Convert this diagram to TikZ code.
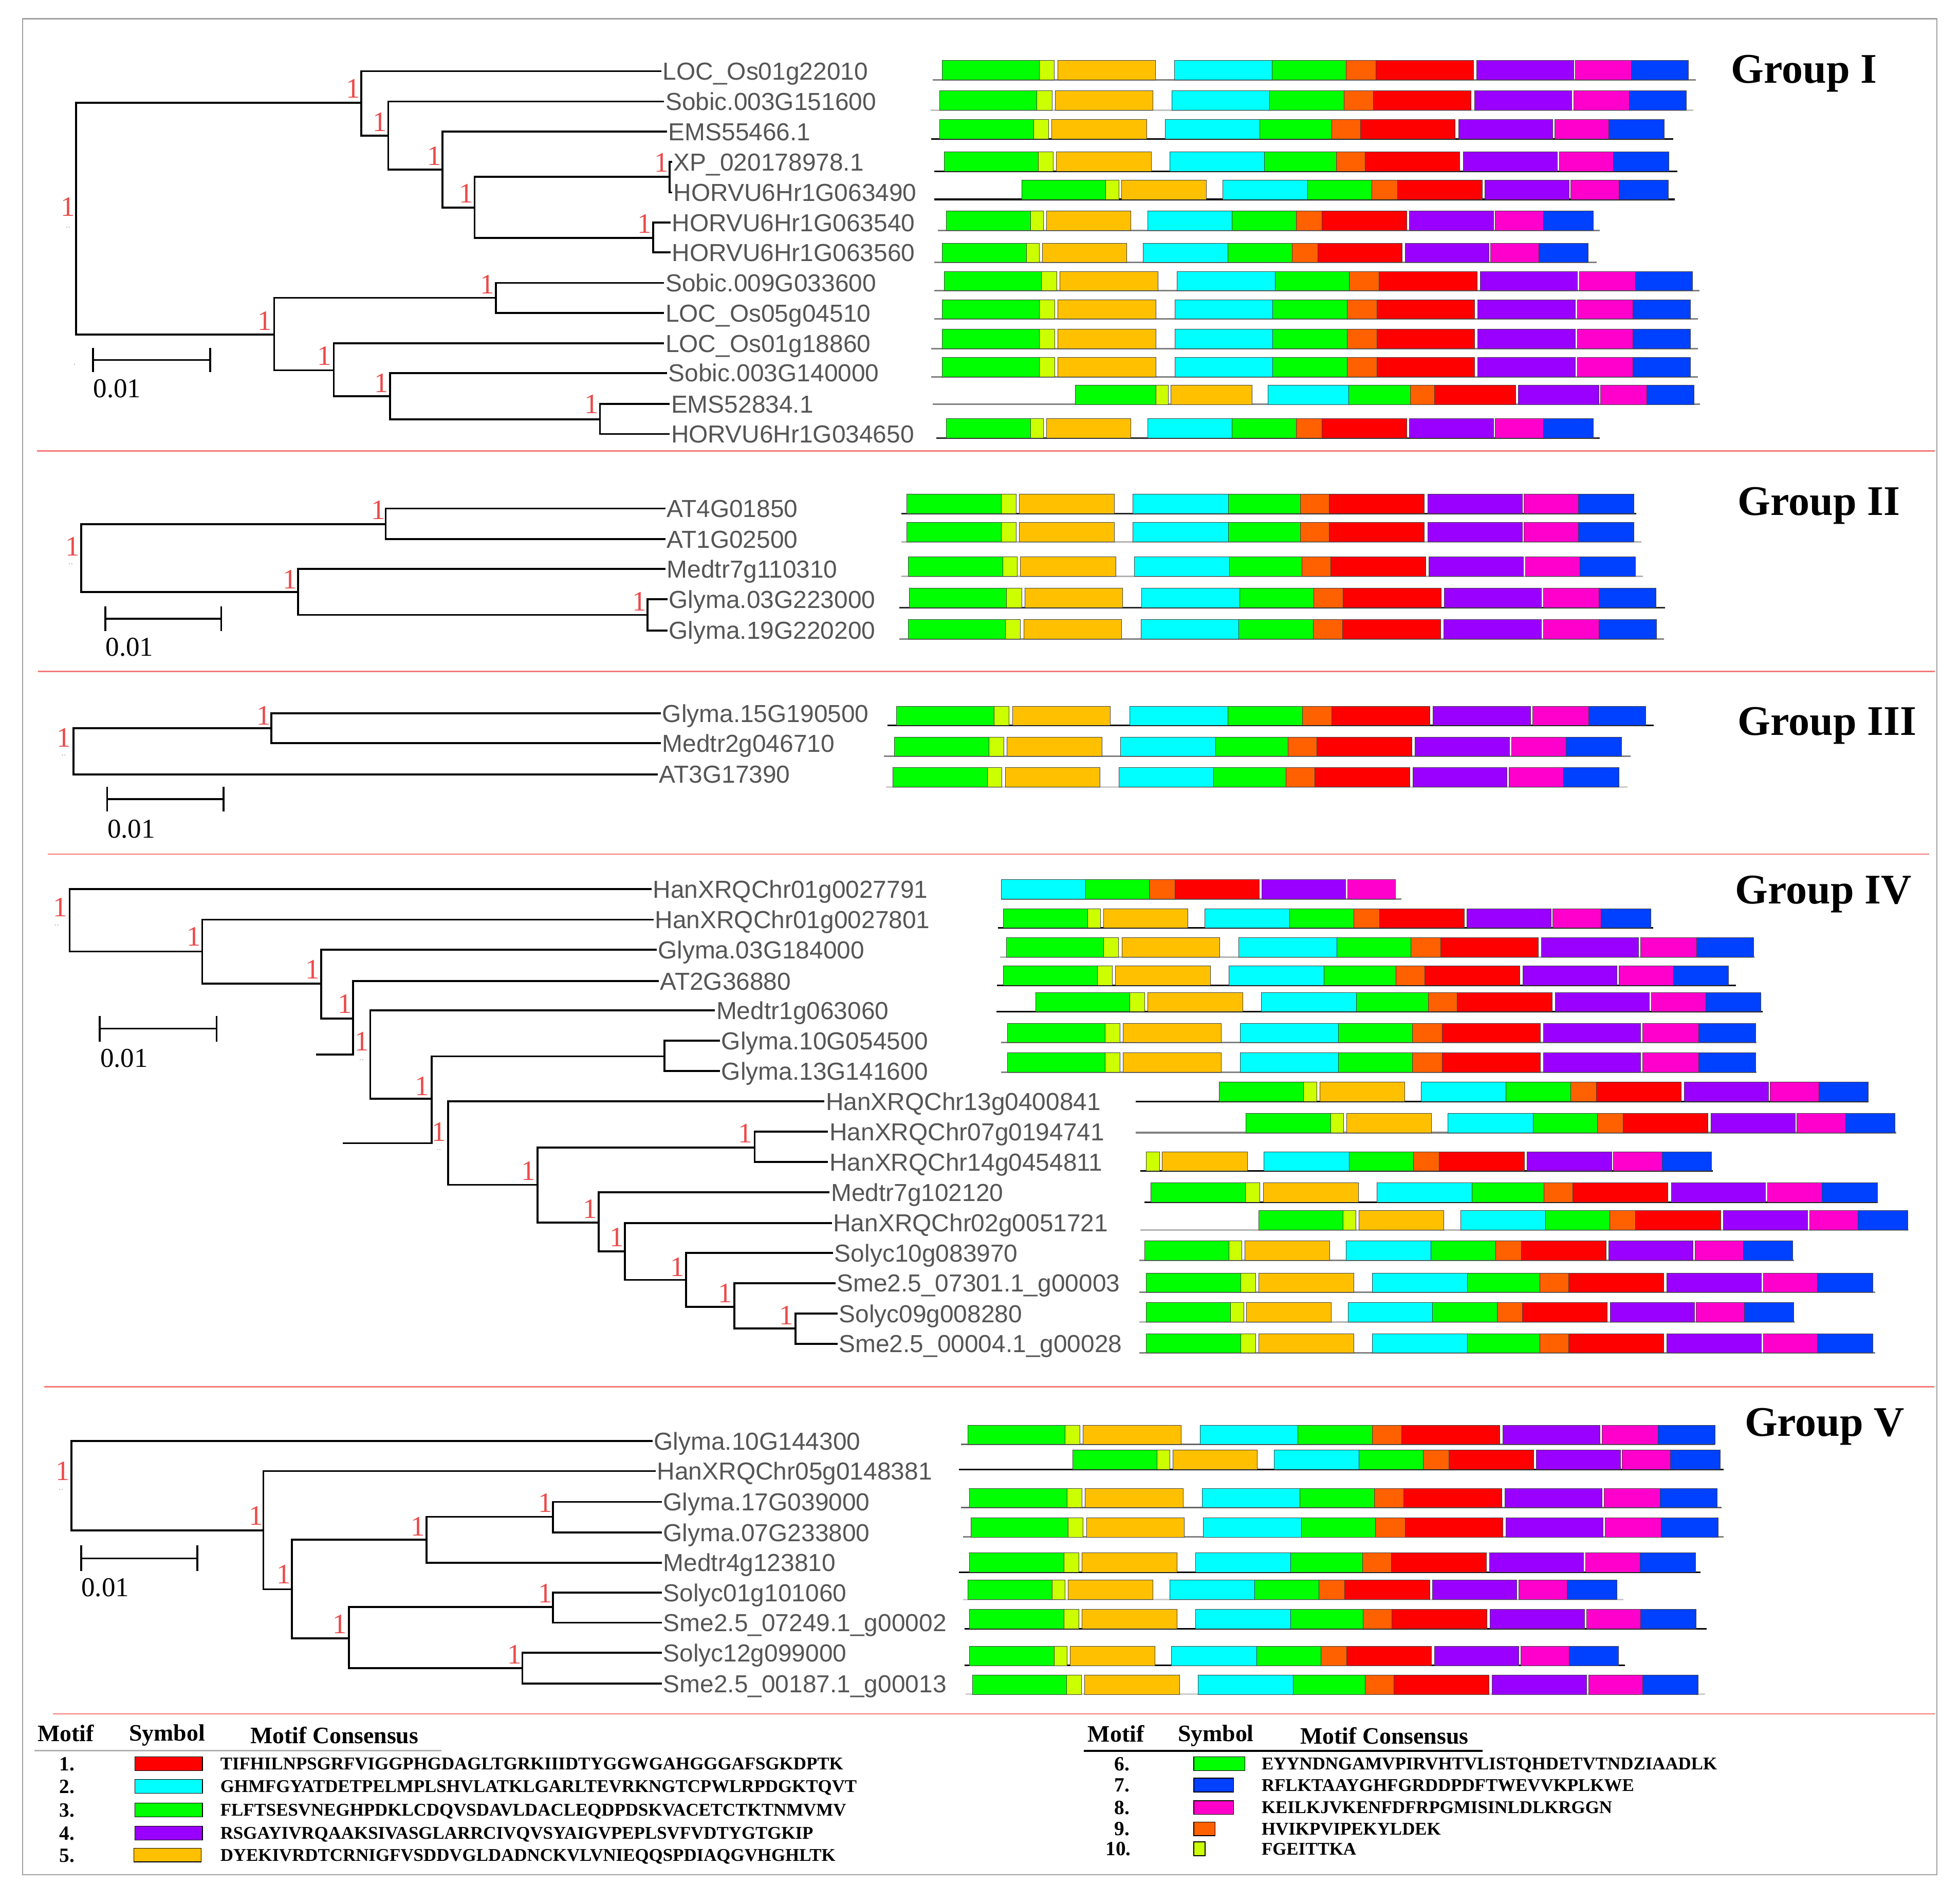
\documentclass[tikz,border=0pt]{standalone}
\usepackage{fontspec}
\setmainfont{Liberation Serif}
\setsansfont{Liberation Sans}

\definecolor{mone}{RGB}{255,0,0}
\definecolor{mtwo}{RGB}{0,255,255}
\definecolor{mthree}{RGB}{0,255,0}
\definecolor{mfour}{RGB}{153,0,255}
\definecolor{mfive}{RGB}{255,192,0}
\definecolor{msix}{RGB}{0,255,0}
\definecolor{mseven}{RGB}{0,64,255}
\definecolor{meight}{RGB}{255,0,204}
\definecolor{mnine}{RGB}{255,96,0}
\definecolor{mten}{RGB}{204,255,0}
\definecolor{labelgray}{RGB}{85,85,85}
\definecolor{bootred}{RGB}{235,75,75}
\definecolor{seppink}{RGB}{245,120,120}
\definecolor{framegray}{RGB}{160,160,160}

% motif segments of a full-length protein (start/end/colour)
\def\motiffull{0/77.6/mthree,77.6/89.7/mten,92.3/170.4/mfive,185.7/263.8/mtwo,263.8/323.1/msix,323.1/346.7/mnine,346.7/424.8/mone,427.4/505/mfour,506.6/551.2/meight,551.2/596.8/mseven}
\def\motifnoN{185.7/263.8/mtwo,263.8/323.1/msix,323.1/346.7/mnine,346.7/424.8/mone,427.4/505/mfour,506.6/551.2/meight}
\def\motifnogreen{77.6/89.7/mten,92.3/170.4/mfive,185.7/263.8/mtwo,263.8/323.1/msix,323.1/346.7/mnine,346.7/424.8/mone,427.4/505/mfour,506.6/551.2/meight,551.2/596.8/mseven}

% [segments]{baseline y}{x0}{scale}{line from}{line to}{line colour}
\newcommand{\motifrow}[7][\motiffull]{%
  \draw[backbone,#7] (#5,#2) -- (#6,#2);
  \foreach \segfrom/\segto/\segcol in #1
    \filldraw[motifbox,fill=\segcol] ({#3+#4*\segfrom},#2) rectangle ({#3+#4*\segto},{#2-15.5});
}

\begin{document}
\begin{tikzpicture}[x=0.25mm, y=-0.25mm,
  branch/.style={line width=1.1pt, black},
  leaf/.style={anchor=west, inner xsep=0.6pt, inner ysep=0pt, text height=10pt, text depth=0pt, text=labelgray, font=\fontsize{14}{16}\selectfont\sffamily},
  boot/.style={inner sep=0pt, text=bootred, font=\fontsize{16}{18}\selectfont},
  dots/.style={inner sep=0pt, text height=1pt, text depth=0pt, text=gray!70, font=\fontsize{5}{6}\selectfont\sffamily},
  scalelabel/.style={anchor=west, inner sep=0pt, text height=10.5pt, text depth=0pt, font=\fontsize{15.5}{18}\selectfont},
  grouptitle/.style={anchor=base west, inner sep=0pt, font=\fontsize{24}{28}\selectfont\bfseries},
  backbone/.style={line width=0.9pt},
  motifbox/.style={draw=black!75, line width=0.2pt},
  leghead/.style={anchor=base west, inner sep=0pt, font=\fontsize{13.4}{16}\selectfont\bfseries},
  legnum/.style={anchor=east, inner sep=0pt, text height=7.8pt, text depth=0pt, font=\fontsize{11.5}{14}\selectfont\bfseries},
  legseq/.style={anchor=west, inner sep=0pt, text height=6.8pt, text depth=0pt, font=\fontsize{10.2}{12}\selectfont\bfseries},
  legbox/.style={draw=black, line width=0.4pt}]
\useasboundingbox (0,0) rectangle (1568,1522);
\draw[framegray, line width=0.6pt] (18,15) rectangle (1549.5,1499.7);

% separators
\draw[seppink, line width=0.8pt] (29.8,360.7) -- (1548,360.7);
\draw[seppink, line width=0.8pt] (30.3,537.2) -- (1548,537.2);
\draw[seppink, line width=0.8pt] (38.3,683.3) -- (1543.3,683.3);
\draw[seppink, line width=0.8pt] (35.4,1109.5) -- (1547.5,1109.5);
\draw[seppink, line width=0.8pt] (42.3,1371.1) -- (1548,1371.1);

% ---------------- Group I ----------------
\coordinate (G1N0) at (61,175);
\coordinate (G1N1) at (289,82.3);
\coordinate (G1N2) at (310.6,108.5);
\coordinate (G1N3) at (353.9,135.8);
\coordinate (G1N4) at (379.7,166.1);
\coordinate (G1N5) at (535.8,141.4);
\coordinate (G1N6) at (522.4,190.2);
\coordinate (G1N7) at (219.3,267.6);
\coordinate (G1N8) at (396.7,238.2);
\coordinate (G1N9) at (267,296.2);
\coordinate (G1N10) at (312,317.1);
\coordinate (G1N11) at (480,335.4);
\node[leaf] (G1L1) at (529.1,56.9) {LOC\_Os01g22010};
\node[leaf] (G1L2) at (531.3,81.2) {Sobic.003G151600};
\node[leaf] (G1L3) at (533.6,105.3) {EMS55466.1};
\node[leaf] (G1L4) at (537.8,129.5) {XP\_020178978.1};
\node[leaf] (G1L5) at (537.8,154) {HORVU6Hr1G063490};
\node[leaf] (G1L6) at (536.5,178) {HORVU6Hr1G063540};
\node[leaf] (G1L7) at (536.5,202) {HORVU6Hr1G063560};
\node[leaf] (G1L8) at (531.3,226.3) {Sobic.009G033600};
\node[leaf] (G1L9) at (531.3,250.4) {LOC\_Os05g04510};
\node[leaf] (G1L10) at (531.3,274.7) {LOC\_Os01g18860};
\node[leaf] (G1L11) at (533.6,298.4) {Sobic.003G140000};
\node[leaf] (G1L12) at (535.8,323.1) {EMS52834.1};
\node[leaf] (G1L13) at (535.8,347.2) {HORVU6Hr1G034650};
\draw[branch] (G1N0) |- (G1N1);
\draw[branch] (G1N0) |- (G1N7);
\draw[branch] (G1N1) |- (G1L1.west);
\draw[branch] (G1N1) |- (G1N2);
\draw[branch] (G1N2) |- (G1L2.west);
\draw[branch] (G1N2) |- (G1N3);
\draw[branch] (G1N3) |- (G1L3.west);
\draw[branch] (G1N3) |- (G1N4);
\draw[branch] (G1N4) |- (G1N5);
\draw[branch] (G1N4) |- (G1N6);
\draw[branch] (G1N5) |- (G1L4.west);
\draw[branch] (G1N5) |- (G1L5.west);
\draw[branch] (G1N6) |- (G1L6.west);
\draw[branch] (G1N6) |- (G1L7.west);
\draw[branch] (G1N7) |- (G1N8);
\draw[branch] (G1N7) |- (G1N9);
\draw[branch] (G1N8) |- (G1L8.west);
\draw[branch] (G1N8) |- (G1L9.west);
\draw[branch] (G1N9) |- (G1L10.west);
\draw[branch] (G1N9) |- (G1N10);
\draw[branch] (G1N10) |- (G1L11.west);
\draw[branch] (G1N10) |- (G1N11);
\draw[branch] (G1N11) |- (G1L12.west);
\draw[branch] (G1N11) |- (G1L13.west);
\node[boot] (G1B0) at (54.3,165.5) {1};
\node[boot] (G1B1) at (282.6,70.9) {1};
\node[boot] (G1B2) at (303.9,97.8) {1};
\node[boot] (G1B3) at (347.6,124.6) {1};
\node[boot] (G1B4) at (373,154.7) {1};
\node[boot] (G1B5) at (529,130) {1};
\node[boot] (G1B6) at (515.7,179) {1};
\node[boot] (G1B7) at (211.7,256.9) {1};
\node[boot] (G1B8) at (390,227.4) {1};
\node[boot] (G1B9) at (259.4,284.8) {1};
\node[boot] (G1B10) at (305.3,306.3) {1};
\node[boot] (G1B11) at (473.4,323.5) {1};
\node[dots] (G1D0) at (54.3,181.5) {..};
\node[dots] (G1D1) at (59.7,291.3) {.};
\draw[branch] (74.4,288) -- (168,288);
\draw[branch] (74.4,278.4) -- (74.4,297.7);
\draw[branch] (168,278.4) -- (168,297.7);
\node[scalelabel] (G1S) at (74.4,310.6) {0.01};
\node[grouptitle] (G1T) at (1384.7,66.6) {Group I};
\motifrow{63.8}{753.8}{1.0}{746}{1356.8}{gray}
\motifrow{88.1}{751.7}{1.001}{744.4}{1354.8}{black!25}
\motifrow{111.1}{751.7}{0.971}{745}{1338.5}{black}
\motifrow{137}{755.4}{0.971}{747.5}{1341.7}{black}
\motifrow{159.5}{817.3}{0.867}{747.5}{1340}{black}
\motifrow{184.2}{757}{0.867}{750.2}{1279.8}{gray}
\motifrow{210}{753.8}{0.866}{747.5}{1277.2}{gray}
\motifrow{232.6}{755.4}{1.003}{747.5}{1359.5}{gray}
\motifrow{255.2}{753.8}{1.0025}{747.5}{1358.4}{gray}
\motifrow{278.8}{753.8}{1.0025}{745}{1358.4}{gray}
\motifrow{301.4}{753.8}{1.0025}{745}{1358.4}{gray}
\motifrow{323.5}{860.3}{0.829}{746}{1360}{gray}
\motifrow{350.4}{757}{0.867}{749}{1279.8}{black!85}

% ---------------- Group II ----------------
\coordinate (G2N0) at (64.9,446);
\coordinate (G2N1) at (308.5,419.2);
\coordinate (G2N2) at (238.4,473.6);
\coordinate (G2N3) at (518.1,491.9);
\node[leaf] (G2L1) at (532.4,406.8) {AT4G01850};
\node[leaf] (G2L2) at (532.4,431.4) {AT1G02500};
\node[leaf] (G2L3) at (532.4,455.2) {Medtr7g110310};
\node[leaf] (G2L4) at (534,479.5) {Glyma.03G223000};
\node[leaf] (G2L5) at (534,504.3) {Glyma.19G220200};
\draw[branch] (G2N0) |- (G2N1);
\draw[branch] (G2N0) |- (G2N2);
\draw[branch] (G2N1) |- (G2L1.west);
\draw[branch] (G2N1) |- (G2L2.west);
\draw[branch] (G2N2) |- (G2L3.west);
\draw[branch] (G2N2) |- (G2N3);
\draw[branch] (G2N3) |- (G2L4.west);
\draw[branch] (G2N3) |- (G2L5.west);
\node[boot] (G2B0) at (58,437) {1};
\node[boot] (G2B1) at (302.6,408) {1};
\node[boot] (G2B2) at (232,463.4) {1};
\node[boot] (G2B3) at (511.6,481) {1};
\node[dots] (G2D0) at (56.6,451) {..};
\draw[branch] (84.3,494.9) -- (177,494.9);
\draw[branch] (84.3,485) -- (84.3,505);
\draw[branch] (177,485) -- (177,505);
\node[scalelabel] (G2S) at (84.3,517.5) {0.01};
\node[grouptitle] (G2T) at (1390,412.3) {Group II};
\motifrow{410.9}{725.3}{0.975}{720.9}{1309}{black!85}
\motifrow{433.5}{725.3}{0.975}{720.9}{1312.9}{black!30}
\motifrow{461}{726.4}{0.975}{720.9}{1314.5}{black!30}
\motifrow{486}{727.5}{1.001}{719.3}{1332.1}{black!85}
\motifrow{511.2}{726.4}{1.003}{719.3}{1331}{gray}

% ---------------- Group III ----------------
\coordinate (G3N0) at (58.9,601);
\coordinate (G3N1) at (217.2,582.4);
\node[leaf] (G3L1) at (528.7,570.6) {Glyma.15G190500};
\node[leaf] (G3L2) at (528.7,594.6) {Medtr2g046710};
\node[leaf] (G3L3) at (526.3,619.4) {AT3G17390};
\draw[branch] (G3N0) |- (G3N1);
\draw[branch] (G3N0) |- (G3L3.west);
\draw[branch] (G3N1) |- (G3L1.west);
\draw[branch] (G3N1) |- (G3L2.west);
\node[boot] (G3B0) at (51,590) {1};
\node[boot] (G3B1) at (211,572.6) {1};
\node[dots] (G3D0) at (51,604) {..};
\draw[branch] (85.7,639.4) -- (178.9,639.4);
\draw[branch] (85.7,629.6) -- (85.7,649.3);
\draw[branch] (178.9,629.6) -- (178.9,649.3);
\node[scalelabel] (G3S) at (85.7,663) {0.01};
\node[grouptitle] (G3T) at (1390,588.3) {Group III};
\motifrow{580.4}{717.1}{1.0047}{709.9}{1322.8}{black}
\motifrow{605}{715.4}{0.975}{707.2}{1304.6}{gray}
\motifrow{629.6}{714.3}{0.973}{708.8}{1301.8}{black!20}

% ---------------- Group IV ----------------
\coordinate (G4N0) at (55.7,736);
\coordinate (G4N1) at (161.8,761.2);
\coordinate (G4N2) at (257,786.9);
\coordinate (G4N3) at (282.4,814.9);
\coordinate (G4C1) at (253,843.7);
\coordinate (G4N4) at (296.2,843.7);
\coordinate (G4N5) at (345.2,879.1);
\coordinate (G4N6) at (531.5,845);
\coordinate (G4C2) at (274.3,914.5);
\coordinate (G4N7) at (358.5,914.5);
\coordinate (G4N8) at (430,947.8);
\coordinate (G4N9) at (603.7,918);
\coordinate (G4N10) at (479,978);
\coordinate (G4N11) at (499.8,1001);
\coordinate (G4N12) at (548.9,1023.9);
\coordinate (G4N13) at (587.5,1045.6);
\coordinate (G4N14) at (636.5,1062.7);
\node[leaf] (G4L1) at (521.2,711.3) {HanXRQChr01g0027791};
\node[leaf] (G4L2) at (522.9,735.7) {HanXRQChr01g0027801};
\node[leaf] (G4L3) at (525.2,759.8) {Glyma.03G184000};
\node[leaf] (G4L4) at (527,784.8) {AT2G36880};
\node[leaf] (G4L5) at (572,808.4) {Medtr1g063060};
\node[leaf] (G4L6) at (576,832.5) {Glyma.10G054500};
\node[leaf] (G4L7) at (576,856.9) {Glyma.13G141600};
\node[leaf] (G4L8) at (659.6,881) {HanXRQChr13g0400841};
\node[leaf] (G4L9) at (662.5,905.4) {HanXRQChr07g0194741};
\node[leaf] (G4L10) at (662.5,929.5) {HanXRQChr14g0454811};
\node[leaf] (G4L11) at (663.7,953.9) {Medtr7g102120};
\node[leaf] (G4L12) at (665.4,978.3) {HanXRQChr02g0051721};
\node[leaf] (G4L13) at (666.5,1002.4) {Solyc10g083970};
\node[leaf] (G4L14) at (668.3,1026.5) {Sme2.5\_07301.1\_g00003};
\node[leaf] (G4L15) at (670,1050.9) {Solyc09g008280};
\node[leaf] (G4L16) at (670,1075) {Sme2.5\_00004.1\_g00028};
\draw[branch] (G4N0) |- (G4L1.west);
\draw[branch] (G4N0) |- (G4N1);
\draw[branch] (G4N1) |- (G4L2.west);
\draw[branch] (G4N1) |- (G4N2);
\draw[branch] (G4N2) |- (G4L3.west);
\draw[branch] (G4N2) |- (G4N3);
\draw[branch] (G4N3) |- (G4L4.west);
\draw[branch] (G4N3) |- (G4C1);
\draw[branch] (G4N4) |- (G4L5.west);
\draw[branch] (G4N4) |- (G4N5);
\draw[branch] (G4N5) |- (G4N6);
\draw[branch] (G4N5) |- (G4C2);
\draw[branch] (G4N6) |- (G4L6.west);
\draw[branch] (G4N6) |- (G4L7.west);
\draw[branch] (G4N7) |- (G4L8.west);
\draw[branch] (G4N7) |- (G4N8);
\draw[branch] (G4N8) |- (G4N9);
\draw[branch] (G4N8) |- (G4N10);
\draw[branch] (G4N9) |- (G4L9.west);
\draw[branch] (G4N9) |- (G4L10.west);
\draw[branch] (G4N10) |- (G4L11.west);
\draw[branch] (G4N10) |- (G4N11);
\draw[branch] (G4N11) |- (G4L12.west);
\draw[branch] (G4N11) |- (G4N12);
\draw[branch] (G4N12) |- (G4L13.west);
\draw[branch] (G4N12) |- (G4N13);
\draw[branch] (G4N13) |- (G4L14.west);
\draw[branch] (G4N13) |- (G4N14);
\draw[branch] (G4N14) |- (G4L15.west);
\draw[branch] (G4N14) |- (G4L16.west);
\node[boot] (G4B0) at (48.2,725.8) {1};
\node[boot] (G4B1) at (154.9,749.4) {1};
\node[boot] (G4B2) at (250,775.6) {1};
\node[boot] (G4B3) at (276,803.1) {1};
\node[boot] (G4B4) at (289.3,833.3) {1};
\node[boot] (G4B5) at (337.7,868.7) {1};
\node[boot] (G4B6) at (351,905.4) {1};
\node[boot] (G4B7) at (422.5,936.8) {1};
\node[boot] (G4B8) at (596.2,906.7) {1};
\node[boot] (G4B9) at (472.1,967) {1};
\node[boot] (G4B10) at (493.5,989.8) {1};
\node[boot] (G4B11) at (541.9,1013.4) {1};
\node[boot] (G4B12) at (580,1034.4) {1};
\node[boot] (G4B13) at (629,1052.2) {1};
\node[dots] (G4D0) at (45.3,740) {..};
\node[dots] (G4D1) at (289.3,847.5) {..};
\node[dots] (G4D2) at (351,919.5) {..};
\draw[branch] (79.9,822.8) -- (173.3,822.8);
\draw[branch] (79.9,812.8) -- (79.9,833.3);
\draw[branch] (173.3,812.8) -- (173.3,833.3);
\node[scalelabel] (G4S) at (79.9,846.4) {0.01};
\node[grouptitle] (G4T) at (1387.9,723.1) {Group IV};
\motifrow[\motifnoN]{719.2}{640.7}{0.863}{801}{1121.3}{gray}
\motifrow{742.3}{802.5}{0.868}{798.5}{1322.6}{black}
\motifrow{765.6}{805}{1.0017}{800}{1403.8}{black!30}
\motifrow{788.2}{802.5}{0.9725}{797.5}{1388.9}{black}
\motifrow{809.4}{828.4}{0.9725}{797}{1410.3}{black}
\motifrow{834}{806}{1.003}{801}{1405.3}{gray}
\motifrow{857.6}{806}{1.003}{801}{1405.3}{gray}
\motifrow{881.2}{975.4}{0.87}{908.6}{1495}{black}
\motifrow{906.1}{996.8}{0.87}{908.6}{1516.9}{gray}
\motifrow[\motifnogreen]{936.8}{849.4}{0.871}{912.1}{1370.4}{black}
\motifrow{961.7}{920.6}{0.974}{915.6}{1502}{black}
\motifrow{984}{1006.8}{0.87}{912.1}{1526.8}{black!30}
\motifrow{1008.1}{915.6}{0.869}{911.6}{1435.2}{gray}
\motifrow{1033.8}{917.1}{0.974}{911.6}{1500}{gray}
\motifrow{1057.4}{917.1}{0.868}{911.6}{1436.2}{black!30}
\motifrow{1082.3}{917.1}{0.974}{911.6}{1500}{gray}

% ---------------- Group V ----------------
\coordinate (G5N0) at (57.3,1188.5);
\coordinate (G5N1) at (210.7,1224.2);
\coordinate (G5N2) at (233.6,1271.4);
\coordinate (G5N3) at (341.2,1231.8);
\coordinate (G5N4) at (442.4,1213.4);
\coordinate (G5N5) at (279,1310.6);
\coordinate (G5N6) at (442.4,1285.5);
\coordinate (G5N7) at (417.9,1334.4);
\node[leaf] (G5L1) at (522,1152.9) {Glyma.10G144300};
\node[leaf] (G5L2) at (524.6,1176.8) {HanXRQChr05g0148381};
\node[leaf] (G5L3) at (529.5,1201.5) {Glyma.17G039000};
\node[leaf] (G5L4) at (529.5,1225.9) {Glyma.07G233800};
\node[leaf] (G5L5) at (529.5,1250.1) {Medtr4g123810};
\node[leaf] (G5L6) at (529.5,1274) {Solyc01g101060};
\node[leaf] (G5L7) at (529.5,1298.1) {Sme2.5\_07249.1\_g00002};
\node[leaf] (G5L8) at (529.5,1322.2) {Solyc12g099000};
\node[leaf] (G5L9) at (529.5,1346.9) {Sme2.5\_00187.1\_g00013};
\draw[branch] (G5N0) |- (G5L1.west);
\draw[branch] (G5N0) |- (G5N1);
\draw[branch] (G5N1) |- (G5L2.west);
\draw[branch] (G5N1) |- (G5N2);
\draw[branch] (G5N2) |- (G5N3);
\draw[branch] (G5N2) |- (G5N5);
\draw[branch] (G5N3) |- (G5N4);
\draw[branch] (G5N3) |- (G5L5.west);
\draw[branch] (G5N4) |- (G5L3.west);
\draw[branch] (G5N4) |- (G5L4.west);
\draw[branch] (G5N5) |- (G5N6);
\draw[branch] (G5N5) |- (G5N7);
\draw[branch] (G5N6) |- (G5L6.west);
\draw[branch] (G5N6) |- (G5L7.west);
\draw[branch] (G5N7) |- (G5L8.west);
\draw[branch] (G5N7) |- (G5L9.west);
\node[boot] (G5B0) at (50.3,1176.8) {1};
\node[boot] (G5B1) at (204.7,1212.6) {1};
\node[boot] (G5B2) at (227.2,1259.4) {1};
\node[boot] (G5B3) at (334.3,1221.1) {1};
\node[boot] (G5B4) at (436.4,1202.4) {1};
\node[boot] (G5B5) at (272,1299.5) {1};
\node[boot] (G5B6) at (436.4,1274.8) {1};
\node[boot] (G5B7) at (411.5,1323.4) {1};
\node[dots] (G5D0) at (48.8,1191.5) {..};
\draw[branch] (64.8,1246.7) -- (157.9,1246.7);
\draw[branch] (64.8,1236.4) -- (64.8,1256.9);
\draw[branch] (157.9,1236.4) -- (157.9,1256.9);
\node[scalelabel] (G5S) at (64.8,1269.7) {0.01};
\node[grouptitle] (G5T) at (1395.5,1148.7) {Group V};
\motifrow{1155.5}{774.1}{1.0017}{768.8}{1371.9}{black!60}
\motifrow{1175.4}{858}{0.868}{767.3}{1378.7}{black}
\motifrow{1206.1}{775.7}{1.0017}{768.8}{1377.1}{black!60}
\motifrow{1229.6}{776.7}{1.0017}{770.4}{1378.7}{gray}
\motifrow{1257.7}{775.7}{0.9727}{767.3}{1360.4}{black}
\motifrow{1279.6}{774.1}{0.87}{770.4}{1298.5}{black!20}
\motifrow{1302.9}{775.7}{0.974}{771.5}{1365.1}{black}
\motifrow{1332.4}{775.7}{0.87}{771.5}{1300}{black}
\motifrow{1355.4}{777.8}{0.973}{772.5}{1364}{black!20}

% ---------------- legend ----------------
\node[leghead] (LH1) at (29.8,1393) {Motif};
\node[leghead] (LH2) at (103,1392.5) {Symbol};
\node[leghead] (LH3) at (200,1394.5) {Motif Consensus};
\draw[black!30, line width=1pt] (27.5,1400.5) -- (353,1400.5);
\node[leghead] (RH1) at (870,1393.3) {Motif};
\node[leghead] (RH2) at (942,1393) {Symbol};
\node[leghead] (RH3) at (1040,1395) {Motif Consensus};
\draw[black, line width=1pt] (867,1400.7) -- (1186,1400.7);
\node[legnum] (M1N) at (60,1411) {1.};
\filldraw[legbox,fill=mone] (108,1405.5) rectangle (162,1416.5);
\node[legseq] (M1S) at (176,1411) {TIFHILNPSGRFVIGGPHGDAGLTGRKIIIDTYGGWGAHGGGAFSGKDPTK};
\node[legnum] (M2N) at (60,1429) {2.};
\filldraw[legbox,fill=mtwo] (108,1423.5) rectangle (162,1434.5);
\node[legseq] (M2S) at (176,1429) {GHMFGYATDETPELMPLSHVLATKLGARLTEVRKNGTCPWLRPDGKTQVT};
\node[legnum] (M3N) at (60,1448) {3.};
\filldraw[legbox,fill=mthree] (108,1442.5) rectangle (162,1453.5);
\node[legseq] (M3S) at (176,1448) {FLFTSESVNEGHPDKLCDQVSDAVLDACLEQDPDSKVACETCTKTNMVMV};
\node[legnum] (M4N) at (60,1466.5) {4.};
\filldraw[legbox,fill=mfour] (108,1461) rectangle (162,1472);
\node[legseq] (M4S) at (176,1466.5) {RSGAYIVRQAAKSIVASGLARRCIVQVSYAIGVPEPLSVFVDTYGTGKIP};
\node[legnum] (M5N) at (60,1484) {5.};
\filldraw[legbox,fill=mfive] (107,1478.5) rectangle (161,1489.5);
\node[legseq] (M5S) at (176,1484) {DYEKIVRDTCRNIGFVSDDVGLDADNCKVLVNIEQQSPDIAQGVHGHLTK};
\node[legnum] (M6N) at (904,1411) {6.};
\filldraw[legbox,fill=msix] (955,1405.5) rectangle (996,1416.5);
\node[legseq] (M6S) at (1009,1411) {EYYNDNGAMVPIRVHTVLISTQHDETVTNDZIAADLK};
\node[legnum] (M7N) at (904,1428) {7.};
\filldraw[legbox,fill=mseven] (955,1422.5) rectangle (987,1433.5);
\node[legseq] (M7S) at (1009,1428) {RFLKTAAYGHFGRDDPDFTWEVVKPLKWE};
\node[legnum] (M8N) at (904,1446) {8.};
\filldraw[legbox,fill=meight] (955,1440.5) rectangle (987,1451.5);
\node[legseq] (M8S) at (1009,1446) {KEILKJVKENFDFRPGMISINLDLKRGGN};
\node[legnum] (M9N) at (904,1463) {9.};
\filldraw[legbox,fill=mnine] (955,1457.5) rectangle (972,1468.5);
\node[legseq] (M9S) at (1009,1463) {HVIKPVIPEKYLDEK};
\node[legnum] (M10N) at (905,1479) {10.};
\filldraw[legbox,fill=mten] (955,1473.5) rectangle (964,1484.5);
\node[legseq] (M10S) at (1009,1479) {FGEITTKA};
\end{tikzpicture}
\end{document}
